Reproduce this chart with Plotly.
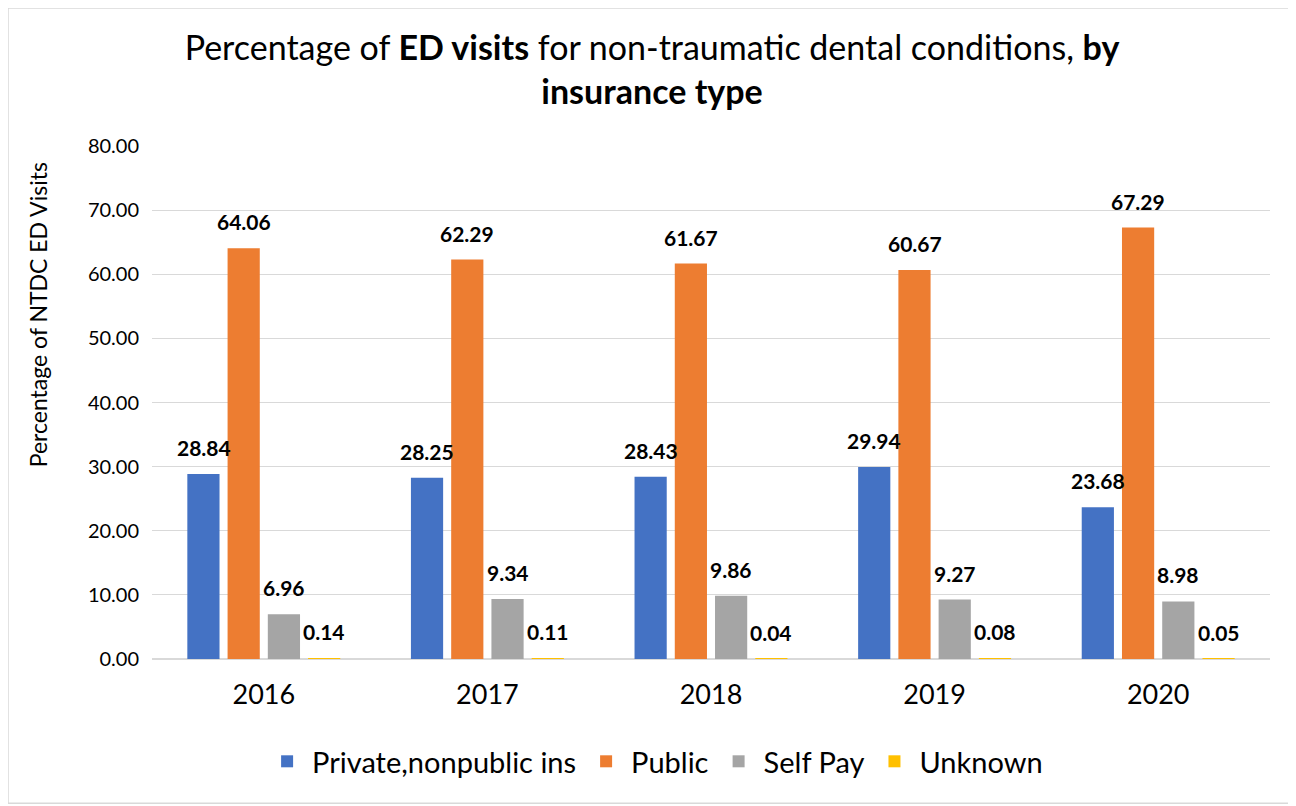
import plotly.graph_objects as go

years = ["2016", "2017", "2018", "2019", "2020"]
private_ins = [28.84, 28.25, 28.43, 29.94, 23.68]
public_ins = [64.06, 62.29, 61.67, 60.67, 67.29]
self_pay = [6.96, 9.34, 9.86, 9.27, 8.98]
unknown = [0.14, 0.11, 0.04, 0.08, 0.05]

series = [
    ("Private,nonpublic ins", private_ins, "#4472C4"),
    ("Public", public_ins, "#ED7D31"),
    ("Self Pay", self_pay, "#A5A5A5"),
    ("Unknown", unknown, "#FFC000"),
]

FONT = "Lato"
SLOT_PX = 40.2  # horizontal distance between neighbouring bars in a group

fig = go.Figure()
annotations = []
for k, (name, vals, color) in enumerate(series):
    fig.add_trace(go.Bar(
        x=years, y=vals, name=name,
        marker=dict(color=color, line=dict(width=0)),
        cliponaxis=False,
    ))
    # data labels, lifted a little above each bar
    # (x given as category index: numeric-looking strings would be read as indices)
    for i, v in enumerate(vals):
        annotations.append(dict(
            x=i, y=v, xref="x", yref="y", text=f"<b>{v:.2f}</b>", showarrow=False,
            xanchor="center", yanchor="bottom",
            xshift=(k - 1.5) * SLOT_PX, yshift=12,
            font=dict(family=FONT, size=21, color="black"),
        ))

annotations.append(dict(
    text="Percentage of NTDC ED Visits", textangle=-90,
    xref="paper", yref="paper", x=-0.102, y=0.672,
    xanchor="center", yanchor="middle", showarrow=False,
    font=dict(size=23, family=FONT),
))

fig.update_layout(
    width=1288, height=798,
    paper_bgcolor="white", plot_bgcolor="white",
    font=dict(family=FONT, color="black"),
    title=dict(
        text="Percentage of <b>ED visits</b> for non-traumatic dental conditions, <b>by</b><br><b>insurance type</b>",
        x=0.5, xanchor="center", y=0.935, yanchor="middle",
        font=dict(size=34, family=FONT),
    ),
    barmode="group", bargap=0.28, bargroupgap=0.2,
    margin=dict(l=144, r=26, t=138, b=147),
    xaxis=dict(
        type="category",
        tickfont=dict(size=27), showgrid=False,
        showline=True, linecolor="#d9d9d9", ticks="",
        ticklabelstandoff=12,
    ),
    yaxis=dict(
        range=[0, 80], dtick=10, tickformat=".2f",
        tickfont=dict(size=20), gridcolor="#d9d9d9",
        zeroline=True, zerolinecolor="#d9d9d9",
        ticklabelstandoff=12,
    ),
    legend=dict(
        orientation="h", x=0.45, xanchor="center", y=-0.15, yanchor="top",
        font=dict(size=29), traceorder="normal", itemwidth=40,
    ),
    annotations=annotations,
    shapes=[dict(type="rect", xref="paper", yref="paper", x0=-0.1288, x1=1.0215, y0=-0.281, y1=1.269,
                 line=dict(color="#d9d9d9", width=1.5))],
)

fig.write_html("out.html")
